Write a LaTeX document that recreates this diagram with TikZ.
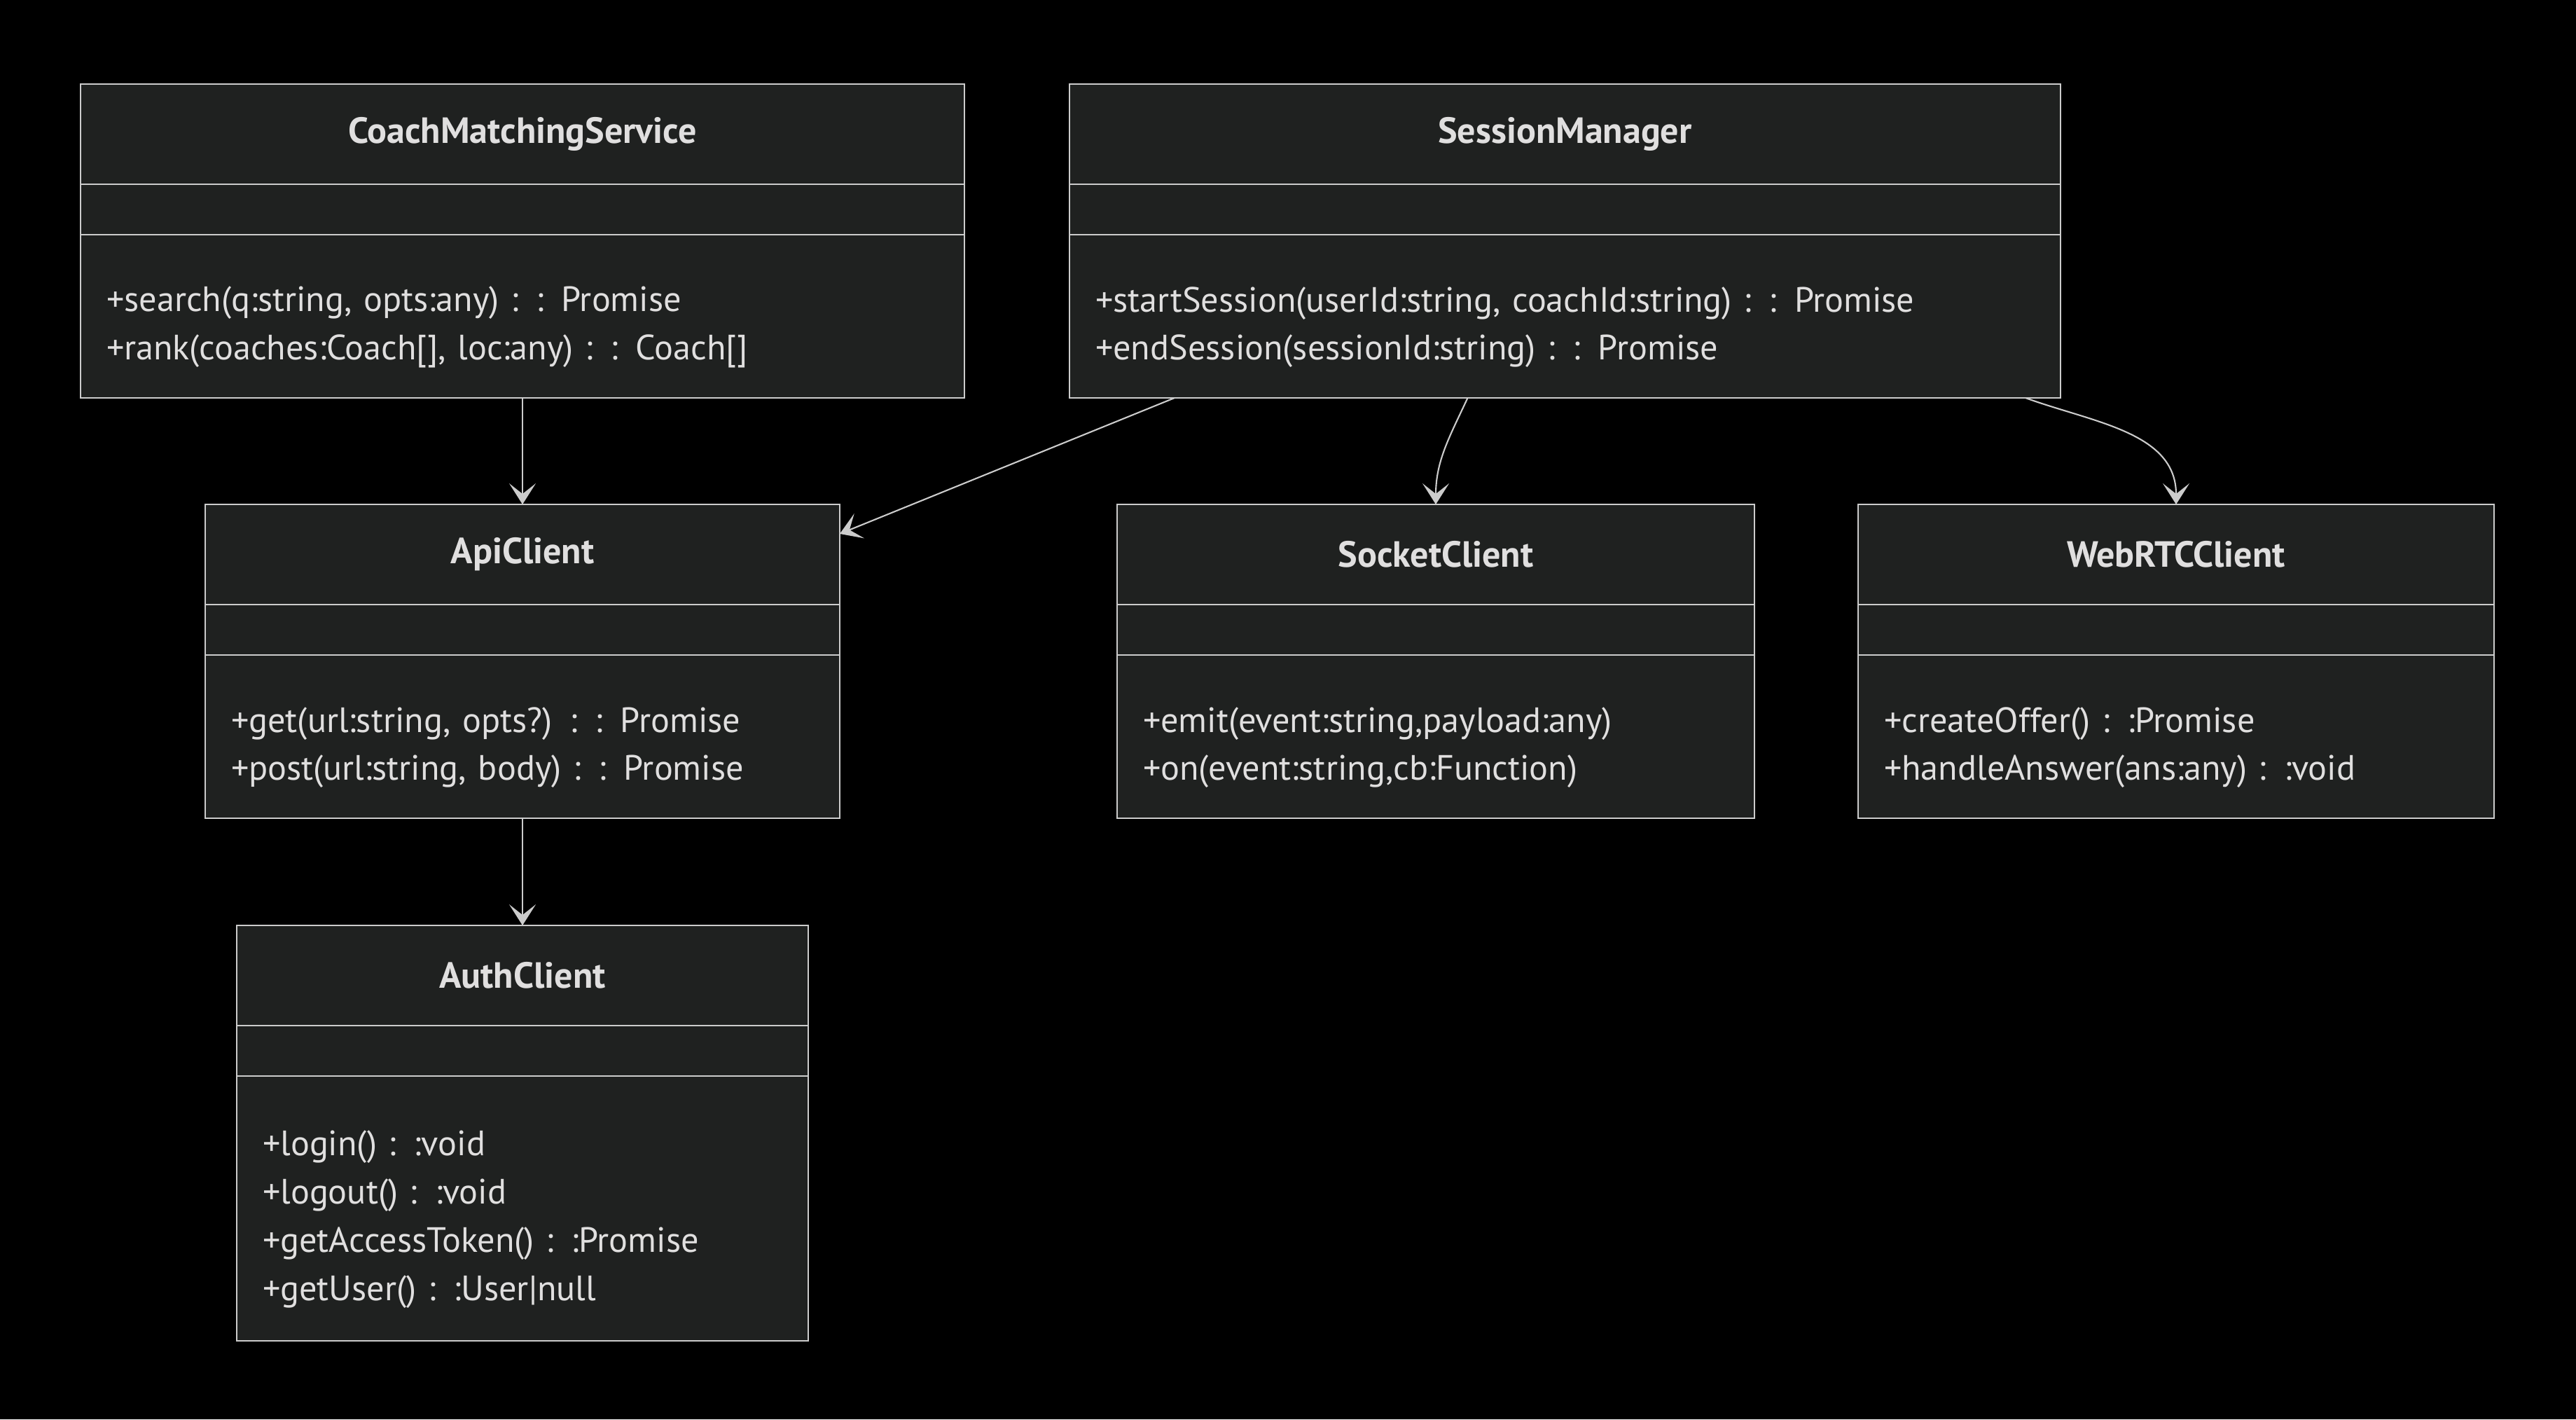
\documentclass[tikz,border=0pt]{standalone}
\usepackage{fontspec}
\setmainfont{PT Sans}
\usepackage{tikz}
\usetikzlibrary{positioning, arrows.meta}
\definecolor{clsfill}{RGB}{31, 33, 32}
\definecolor{clsline}{RGB}{204, 204, 204}
\definecolor{clstext}{RGB}{224, 223, 223}

\begin{document}
\begin{tikzpicture}[
      clstitle/.style={draw=clsline, fill=clsfill, line width=0.8pt, minimum width=#1, minimum height=1.43cm, inner sep=0pt, outer sep=0pt, text=clstext, font=\fontsize{14.8}{17}\selectfont\bfseries},
      clsattr/.style={draw=clsline, fill=clsfill, line width=0.8pt, minimum width=#1, minimum height=0.72cm, inner sep=0pt, outer sep=0pt},
      clsops/.style={draw=clsline, fill=clsfill, line width=0.8pt, text width=#1, align=left, inner xsep=0.37cm, inner ysep=0pt, outer sep=0pt, text=clstext, font=\fontsize{14.3}{19.6}\selectfont, execute at begin node={\rule{0pt}{0.67cm}}},
      relarrow/.style={-{Stealth[length=3mm, width=3.8mm, inset=1.5mm]}, line width=0.6pt, clsline}
    ]
      \fill[black] (0,0) rectangle (36.78,-20.26);
      \useasboundingbox (0,0) rectangle (36.78,-20.26);

      % top row
      \node[clstitle=12.62cm] (cms) at (7.46,-1.915) {CoachMatchingService};
      \node[clsattr=12.62cm, below=0pt of cms] (cms-attr) {};
      \node[clsops=11.88cm, minimum height=2.33cm, below=0pt of cms-attr] (cms-ops) {+search(q:string, opts:any) : : Promise\\+rank(coaches:Coach[], loc:any) : : Coach[]};

      \node[clstitle=14.15cm, right=1.5cm of cms] (sm) {SessionManager};
      \node[clsattr=14.15cm, below=0pt of sm] (sm-attr) {};
      \node[clsops=13.41cm, minimum height=2.33cm, below=0pt of sm-attr] (sm-ops) {+startSession(userId:string, coachId:string) : : Promise\\+endSession(sessionId:string) : : Promise};

      % middle row
      \node[clstitle=9.06cm, below=1.52cm of cms-ops] (api) {ApiClient};
      \node[clsattr=9.06cm, below=0pt of api] (api-attr) {};
      \node[clsops=8.32cm, minimum height=2.33cm, below=0pt of api-attr] (api-ops) {+get(url:string, opts?) : : Promise\\+post(url:string, body) : : Promise};

      \node[clstitle=9.10cm, right=3.96cm of api] (sock) {SocketClient};
      \node[clsattr=9.10cm, below=0pt of sock] (sock-attr) {};
      \node[clsops=8.36cm, minimum height=2.33cm, below=0pt of sock-attr] (sock-ops) {+emit(event:string,payload:any)\\+on(event:string,cb:Function)};

      \node[clstitle=9.08cm, right=1.48cm of sock] (rtc) {WebRTCClient};
      \node[clsattr=9.08cm, below=0pt of rtc] (rtc-attr) {};
      \node[clsops=8.34cm, minimum height=2.33cm, below=0pt of rtc-attr] (rtc-ops) {+createOffer() : :Promise\\+handleAnswer(ans:any) : :void};

      % bottom
      \node[clstitle=8.16cm, below=1.53cm of api-ops] (auth) {AuthClient};
      \node[clsattr=8.16cm, below=0pt of auth] (auth-attr) {};
      \node[clsops=7.42cm, minimum height=3.78cm, below=0pt of auth-attr] (auth-ops) {+login() : :void\\+logout() : :void\\+getAccessToken() : :Promise\\+getUser() : :User|null};

      % relations
      \draw[relarrow] (cms-ops.south) -- (api.north);
      \draw[relarrow] ([xshift=1.5cm]sm-ops.south west) -- ([yshift=-0.42cm]api.north east);
      \draw[relarrow] ([xshift=-1.39cm]sm-ops.south) to[out=-115, in=90] (sock.north);
      \draw[relarrow] ([xshift=-0.5cm]sm-ops.south east) to[out=-20, in=90] (rtc.north);
      \draw[relarrow] (api-ops.south) -- (auth.north);
    \end{tikzpicture}
\end{document}
